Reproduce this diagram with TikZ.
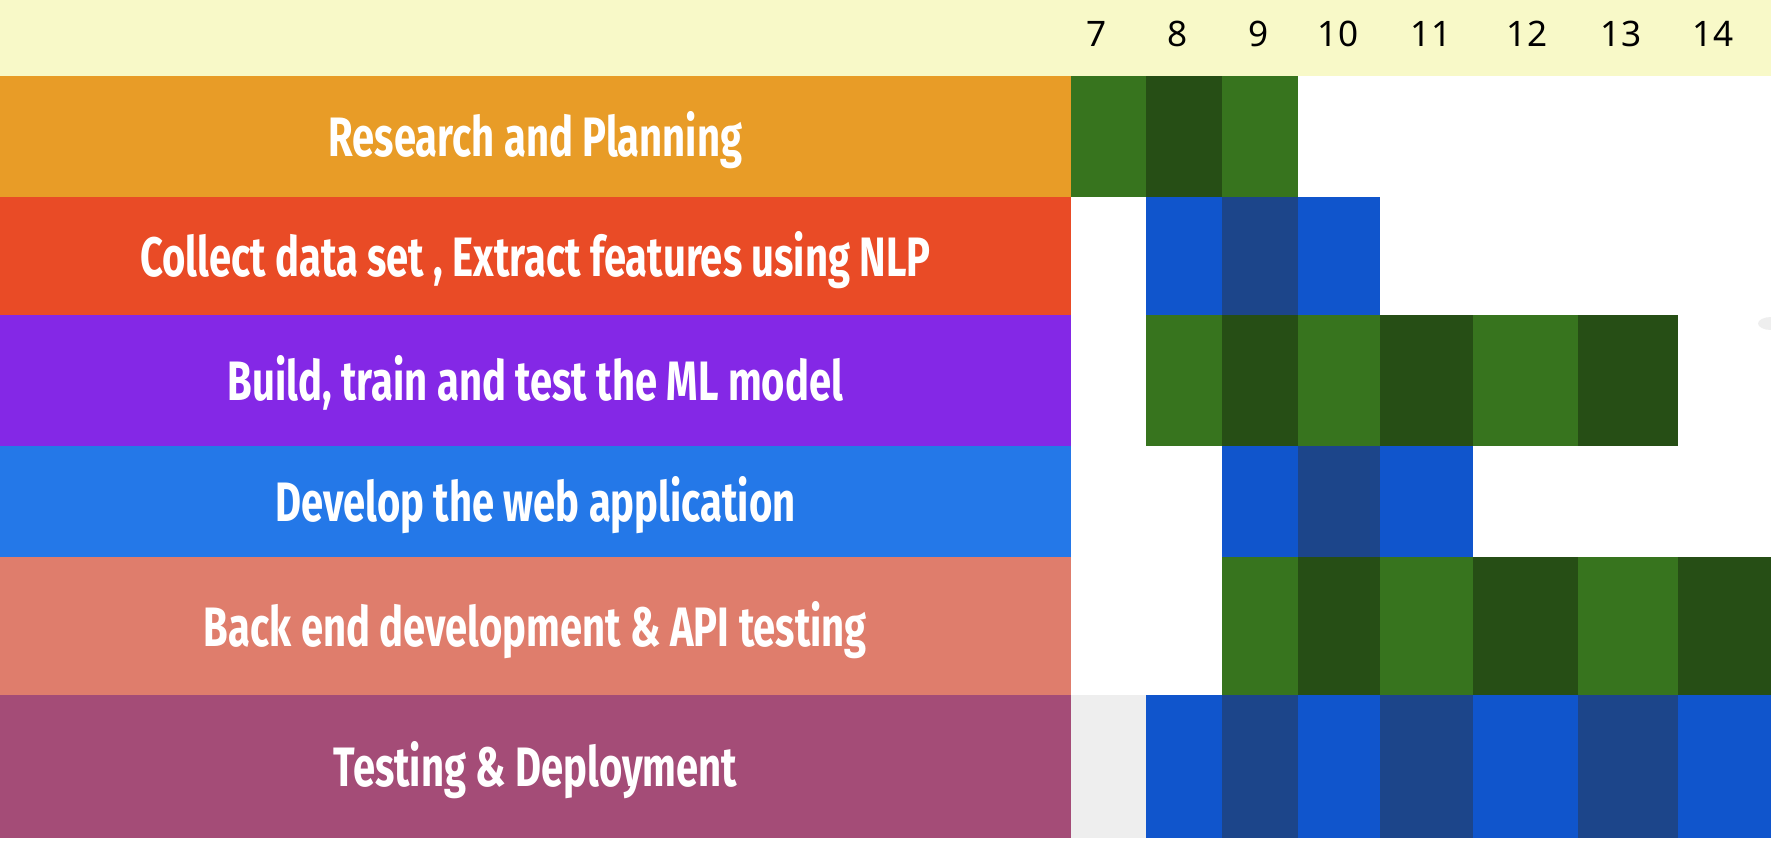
\documentclass[tikz,border=0pt]{standalone}
\usepackage{fontspec}
\newfontfamily\taskfont[FakeStretch=0.72]{Fira Sans}
\newfontfamily\weekfont{Noto Sans}
\definecolor{headbg}{HTML}{F8F9C8}
\definecolor{rowresearch}{HTML}{E89C27}
\definecolor{rowcollect}{HTML}{E94B26}
\definecolor{rowbuild}{HTML}{8428E6}
\definecolor{rowdevelop}{HTML}{2478E8}
\definecolor{rowbackend}{HTML}{DF7D6C}
\definecolor{rowtesting}{HTML}{A44C77}
\definecolor{gA}{HTML}{37741E}
\definecolor{gB}{HTML}{264E15}
\definecolor{bA}{HTML}{1055CC}
\definecolor{bB}{HTML}{1C458A}
\definecolor{idle}{HTML}{EEEEEE}
\tikzset{
  tasklabel/.style={text=white, font=\taskfont\bfseries\fontsize{31.6}{34}\selectfont, text height=21.8pt, text depth=0pt, inner sep=0pt},
  weeklabel/.style={text=black, font=\weekfont\fontsize{20}{22}\selectfont, text height=14.3pt, text depth=0pt, inner sep=0pt}
}
\begin{document}
\begin{tikzpicture}[x=0.02cm, y=-0.02cm]
  \useasboundingbox (0,0) rectangle (1771,846);
  \fill[headbg] (0,0) rectangle (1771,75.7);
  % task bars
  \fill[rowresearch] (0,75.7) rectangle (1071,196.5);
  \fill[rowcollect] (0,196.5) rectangle (1071,315);
  \fill[rowbuild] (0,315) rectangle (1071,446);
  \fill[rowdevelop] (0,446) rectangle (1071,557);
  \fill[rowbackend] (0,557) rectangle (1071,695);
  \fill[rowtesting] (0,695) rectangle (1071,838);
  \node[tasklabel] (research) at (535.5,137) {Research and Planning};
  \node[tasklabel] (collect) at (535.5,257) {Collect data set , Extract features using NLP};
  \node[tasklabel] (build) at (535.5,381) {Build, train and test the ML model};
  \node[tasklabel] (develop) at (535.5,502) {Develop the web application};
  \node[tasklabel] (backend) at (535.5,627) {Back end development \& API testing};
  \node[tasklabel] (testing) at (535.5,767) {Testing \& Deployment};
  % week numbers
  \node[weeklabel] (w7) at (1097,34) {7};
  \node[weeklabel] (w8) at (1178,34) {8};
  \node[weeklabel] (w9) at (1259,34) {9};
  \node[weeklabel] (w10) at (1338,34) {10};
  \node[weeklabel] (w11) at (1431,34) {11};
  \node[weeklabel] (w12) at (1527,34) {12};
  \node[weeklabel] (w13) at (1621,34) {13};
  \node[weeklabel] (w14) at (1713,34) {14};
  % week cells
  \foreach \xa/\xb/\ya/\yb/\col in {
    1071/1146/75.7/196.5/gA, 1146/1222/75.7/196.5/gB, 1222/1298/75.7/196.5/gA,
    1146/1222/196.5/315/bA, 1222/1298/196.5/315/bB, 1298/1380/196.5/315/bA,
    1146/1222/315/446/gA, 1222/1298/315/446/gB, 1298/1380/315/446/gA,
    1380/1473/315/446/gB, 1473/1578/315/446/gA, 1578/1678/315/446/gB,
    1222/1298/446/557/bA, 1298/1380/446/557/bB, 1380/1473/446/557/bA,
    1222/1298/557/695/gA, 1298/1380/557/695/gB, 1380/1473/557/695/gA,
    1473/1578/557/695/gB, 1578/1678/557/695/gA, 1678/1771/557/695/gB,
    1071/1146/695/838/idle, 1146/1222/695/838/bA, 1222/1298/695/838/bB,
    1298/1380/695/838/bA, 1380/1473/695/838/bB, 1473/1578/695/838/bA,
    1578/1678/695/838/bB, 1678/1771/695/838/bA}
    \fill[\col] (\xa,\ya) rectangle (\xb,\yb);
  \fill[idle] (1771,323.5) ellipse (13 and 6.5);
\end{tikzpicture}
\end{document}
